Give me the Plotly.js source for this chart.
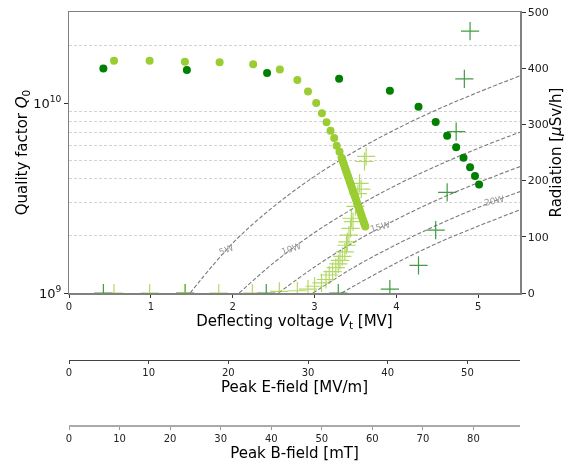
<!DOCTYPE html>
<html>
<head>
<meta charset="utf-8">
<script src="https://cdn.plot.ly/plotly-3.0.1.min.js"></script>
<style>html,body{margin:0;padding:0;background:#fff}#chart{width:565px;height:462px}</style>
</head>
<body>
<div id="chart"></div>
<script>
// ---- Data ----
// Cavity A (dark green): Q0 vs deflecting voltage
const voltA_Q = [0.42, 1.44, 2.42, 3.30, 3.92, 4.27, 4.48, 4.62, 4.73, 4.82, 4.90, 4.96, 5.01];
const qA = [15.2e9, 14.9e9, 14.4e9, 13.4e9, 11.6e9, 9.57e9, 7.94e9, 6.73e9, 5.85e9, 5.15e9, 4.59e9, 4.13e9, 3.73e9];
// Cavity A radiation
const voltA_R = [0.42, 1.42, 2.41, 3.29, 3.92, 4.27, 4.48, 4.62, 4.73, 4.83, 4.90];
const radA = [0, 0, 0, 0, 7, 49, 112, 179, 287, 381, 466];

// Cavity B (yellowgreen): Q0 vs deflecting voltage
const voltB_Q = [0.55, 0.985, 1.416, 1.84, 2.25, 2.576, 2.79, 2.92, 3.02, 3.09, 3.146, 3.195, 3.24, 3.27, 3.305, 3.33,
  3.34, 3.35, 3.36, 3.37, 3.38, 3.39, 3.40, 3.41, 3.42, 3.43, 3.44, 3.45, 3.46, 3.47, 3.48, 3.49, 3.50,
  3.51, 3.52, 3.53, 3.54, 3.55, 3.56, 3.57, 3.58, 3.59, 3.60, 3.61, 3.62];
const qB = [16.7e9, 16.7e9, 16.5e9, 16.4e9, 16.0e9, 15.0e9, 13.2e9, 11.5e9, 10.0e9, 8.83e9, 7.91e9, 7.15e9, 6.54e9, 5.96e9, 5.54e9, 5.15e9,
  5.01e9, 4.86e9, 4.73e9, 4.59e9, 4.46e9, 4.34e9, 4.21e9, 4.09e9, 3.98e9, 3.86e9, 3.75e9, 3.65e9, 3.54e9, 3.44e9, 3.35e9, 3.25e9, 3.16e9,
  3.07e9, 2.98e9, 2.90e9, 2.82e9, 2.74e9, 2.66e9, 2.58e9, 2.51e9, 2.44e9, 2.37e9, 2.30e9, 2.24e9];
// Cavity B radiation
const voltB_R = [0.55, 0.985, 1.416, 1.83, 2.24, 2.57, 2.79, 2.92, 3.00, 3.085, 3.14, 3.18, 3.22, 3.26, 3.29, 3.31,
  3.34, 3.37, 3.39, 3.40, 3.42, 3.44, 3.47, 3.45, 3.50, 3.53, 3.57, 3.55, 3.61, 3.63];
const radB = [0, 0, 0, 0, 0, 3, 4, 7, 12, 18, 24, 32, 38, 45, 52, 58,
  65, 73, 85, 91, 103, 115, 127, 133, 154, 177, 185, 195, 234, 243];

// Constant-power guide lines
const powerLabels = ['5W', '10W', '15W', '20W'];
const pwrV = [
  [1.48, 2.0, 2.5, 3.0, 3.5, 4.0, 4.5, 5.0, 5.51],
  [2.08, 2.5, 3.0, 3.5, 4.0, 4.5, 5.0, 5.51],
  [2.56, 3.0, 3.5, 4.0, 4.5, 5.0, 5.51],
  [2.98, 3.5, 4.0, 4.5, 5.0, 5.51],
  [3.33, 3.5, 4.0, 4.5, 5.0, 5.51]
];
const pwrQ = [
  [1.00e9, 1.83e9, 2.85e9, 4.11e9, 5.59e9, 7.30e9, 9.24e9, 11.4e9, 13.9e9],
  [1.00e9, 1.44e9, 2.08e9, 2.83e9, 3.70e9, 4.68e9, 5.78e9, 7.02e9],
  [1.00e9, 1.37e9, 1.87e9, 2.44e9, 3.09e9, 3.81e9, 4.63e9],
  [1.00e9, 1.38e9, 1.80e9, 2.28e9, 2.82e9, 3.42e9],
  [1.00e9, 1.10e9, 1.44e9, 1.83e9, 2.25e9, 2.74e9]
];
// label anchor positions on the guide lines [V, log10 Q0, angle]
const labelV = [1.92, 2.71, 3.80, 5.19];
const labelLogQ = [9.226, 9.232, 9.346, 9.486];
const labelAngle = [-22, -18, -14, -12];

// secondary scales
const voltMax = 5.51;
const eFieldMax = 56.6;   // MV/m at voltMax
const bFieldMax = 89.2;   // mT at voltMax

const qTicks = [1e9, 1e10];
const qTickText = ['10<sup>9</sup>', '10<sup>10</sup>'];
const qMinorGrid = [2e9, 3e9, 4e9, 5e9, 6e9, 7e9, 8e9, 9e9, 2e10, 3e10];

// ---- Build traces ----
const FONT = 'DejaVu Sans, sans-serif';
const traces = [];
for (let i = 0; i < pwrV.length; i++) {
  traces.push({
    x: pwrV[i], y: pwrQ[i], type: 'scatter', mode: 'lines',
    line: {color: '#7a7a7a', width: 1.1, dash: '4px,2px', shape: 'spline'},
    hoverinfo: 'skip', showlegend: false, xaxis: 'x', yaxis: 'y'
  });
}
traces.push({x: voltA_Q, y: qA, type: 'scatter', mode: 'markers',
  marker: {color: '#008000', size: 8}, showlegend: false, xaxis: 'x', yaxis: 'y'});
traces.push({x: voltB_Q, y: qB, type: 'scatter', mode: 'markers',
  marker: {color: '#9acd32', size: 8}, showlegend: false, xaxis: 'x', yaxis: 'y'});
traces.push({x: voltA_R, y: radA, type: 'scatter', mode: 'markers',
  marker: {symbol: 'cross-thin', size: 13, color: '#1f8a1f', line: {color: '#1f8a1f', width: 1.2}},
  opacity: 0.85, showlegend: false, xaxis: 'x', yaxis: 'y2'});
traces.push({x: voltB_R, y: radB, type: 'scatter', mode: 'markers',
  marker: {symbol: 'cross-thin', size: 13, color: '#9acd32', line: {color: '#9acd32', width: 1.2}},
  opacity: 0.75, showlegend: false, xaxis: 'x', yaxis: 'y2'});
// empty traces to register the extra x scales
traces.push({x: [], y: [], type: 'scatter', mode: 'markers', showlegend: false, xaxis: 'x2', yaxis: 'y'});
traces.push({x: [], y: [], type: 'scatter', mode: 'markers', showlegend: false, xaxis: 'x3', yaxis: 'y'});

const annotations = labelV.map((v, i) => ({
  x: v, y: labelLogQ[i], xref: 'x', yref: 'y', text: powerLabels[i], showarrow: false,
  textangle: labelAngle[i], font: {family: FONT, size: 9, color: '#999999'}
}));

const plotH = 414; // paper height
const mainBottom = (426 - 293) / plotH;
const ePos = (426 - 360) / plotH;

const layout = {
  width: 565, height: 462,
  margin: {l: 69, r: 45, t: 12, b: 36, pad: 0},
  paper_bgcolor: '#fff', plot_bgcolor: '#fff',
  font: {family: FONT, color: '#000'},
  showlegend: false,
  xaxis: {
    range: [0, voltMax], domain: [0, 1], anchor: 'y',
    tickmode: 'array', tickvals: [0, 1, 2, 3, 4, 5],
    ticks: 'outside', ticklen: 3.5, tickwidth: 1, tickcolor: '#333',
    tickfont: {family: FONT, size: 10, color: '#222'},
    showline: true, linecolor: '#808080', linewidth: 1.5, mirror: true,
    showgrid: false, zeroline: false, automargin: false,
    title: {text: 'Deflecting voltage <i>V</i><sub>t</sub> [MV]', font: {family: FONT, size: 15}, standoff: 4}
  },
  xaxis2: {
    range: [0, eFieldMax], overlaying: 'x', anchor: 'free', position: ePos, side: 'bottom',
    tickmode: 'array', tickvals: [0, 10, 20, 30, 40, 50],
    ticks: 'outside', ticklen: 3, tickwidth: 1, tickcolor: '#444',
    tickfont: {family: FONT, size: 10, color: '#222'},
    showline: true, linecolor: '#444', linewidth: 1,
    showgrid: false, zeroline: false, automargin: false,
    title: {text: 'Peak E-field [MV/m]', font: {family: FONT, size: 15}, standoff: 4}
  },
  xaxis3: {
    range: [0, bFieldMax], overlaying: 'x', anchor: 'free', position: 0, side: 'bottom',
    tickmode: 'array', tickvals: [0, 10, 20, 30, 40, 50, 60, 70, 80],
    ticks: 'outside', ticklen: 3, tickwidth: 1, tickcolor: '#999',
    tickfont: {family: FONT, size: 10, color: '#222'},
    showline: true, linecolor: '#aaaaaa', linewidth: 2,
    showgrid: false, zeroline: false, automargin: false,
    title: {text: 'Peak B-field [mT]', font: {family: FONT, size: 15}, standoff: 4}
  },
  yaxis: {
    type: 'log', range: [9, 10.479], domain: [mainBottom, 1], anchor: 'x',
    tickmode: 'array', tickvals: qTicks, ticktext: qTickText,
    ticks: 'outside', ticklen: 3.5, tickwidth: 1, tickcolor: '#333',
    tickfont: {family: FONT, size: 13, color: '#111'},
    showline: true, linecolor: '#808080', linewidth: 1.5,
    showgrid: false, zeroline: false, automargin: false,
    minor: {tickmode: 'array', tickvals: qMinorGrid, ticks: '', showgrid: true,
      gridcolor: '#c8c8c8', griddash: '3px,2px', gridwidth: 0.8},
    title: {text: 'Quality factor <i>Q</i><sub>0</sub>', font: {family: FONT, size: 15}, standoff: 2}
  },
  yaxis2: {
    range: [0, 500], overlaying: 'y', side: 'right', anchor: 'x',
    tickmode: 'array', tickvals: [0, 100, 200, 300, 400, 500],
    ticks: 'outside', ticklen: 4, tickwidth: 1, tickcolor: '#333',
    tickfont: {family: FONT, size: 11, color: '#222'},
    showline: true, linecolor: '#808080', linewidth: 1.5,
    showgrid: false, zeroline: false, automargin: false,
    title: {text: 'Radiation [<i>μ</i>Sv/h]', font: {family: FONT, size: 15}, standoff: 0}
  },
  annotations: annotations
};

Plotly.newPlot('chart', traces, layout, {staticPlot: true, displayModeBar: false});
</script>
</body>
</html>
